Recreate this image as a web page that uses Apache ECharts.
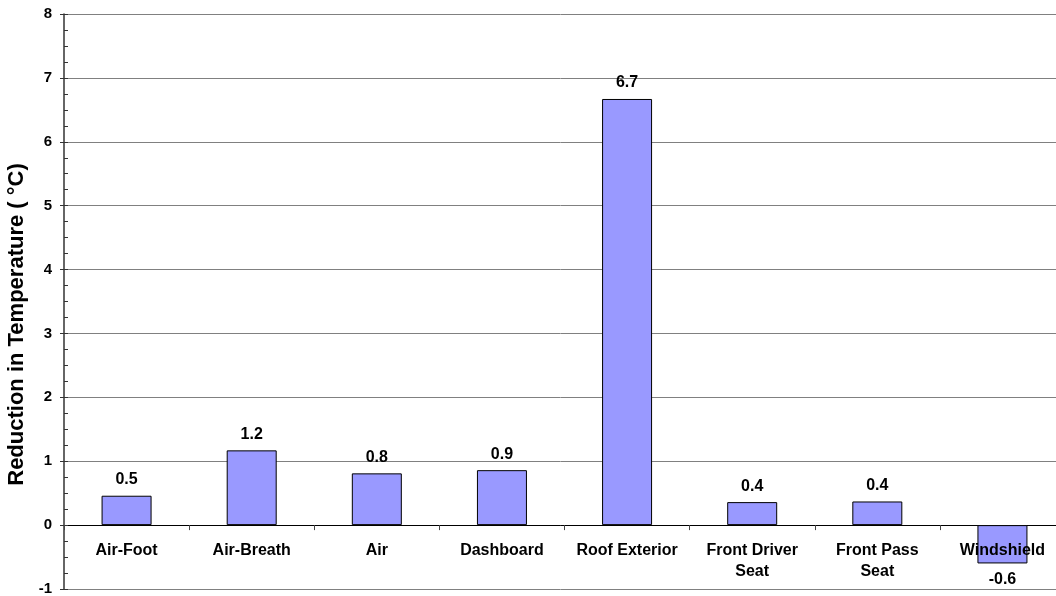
<!DOCTYPE html>
<html>
<head>
<meta charset="utf-8">
<script src="https://cdn.jsdelivr.net/npm/echarts@6/dist/echarts.min.js"></script>
<style>
	html, body { margin: 0; padding: 0; background: #fff; }
	#chart { width: 1056px; height: 596px; }
</style>
</head>
<body>
<div id="chart"></div>
<script>
// 数据
const categories = ["Air-Foot", "Air-Breath", "Air", "Dashboard", "Roof Exterior", "Front Driver\nSeat", "Front Pass\nSeat", "Windshield"];
const reduction = [0.46, 1.17, 0.81, 0.86, 6.67, 0.36, 0.37, -0.6];
const yTicks = [-1, 0, 1, 2, 3, 4, 5, 6, 7, 8];

const font = "'Liberation Sans', Arial, sans-serif";
const chart = echarts.init(document.getElementById("chart"));

// 负值的标签放到柱子下方
const barData = reduction.map((v) => ({
	value: v,
	label: { position: v < 0 ? "bottom" : "top" },
}));

const option = {
	animation: false,
	grid: {
		left: 64,
		right: -9,
		top: 14,
		bottom: 7,
		containLabel: false,
		outerBoundsMode: "none",
	},
	xAxis: [
		{
			// 只放文字，轴在底部，用负 margin 把文字挪到零线下方
			type: "category",
			data: categories,
			position: "bottom",
			z: 5,
			axisLine: { show: false, onZero: false },
			axisTick: { show: false },
			axisLabel: {
				show: true,
				margin: -49,
				color: "#000",
				fontFamily: font,
				fontWeight: "bold",
				fontSize: 16,
				lineHeight: 21,
				interval: 0,
			},
		},
		{
			// 零线 + 刻度
			type: "category",
			data: categories,
			position: "bottom",
			axisLine: { show: true, onZero: true, lineStyle: { color: "#000", width: 1 } },
			axisTick: { show: true, length: 5, lineStyle: { color: "#444" } },
			axisLabel: { show: false },
		},
	],
	yAxis: [
		{
			type: "value",
			min: yTicks[0],
			max: yTicks[yTicks.length - 1],
			interval: 1,
			name: "Reduction in Temperature ( °C)",
			nameLocation: "middle",
			nameRotate: 90,
			nameGap: 29,
			nameTextStyle: {
				color: "#000",
				fontFamily: font,
				fontWeight: "bold",
				fontSize: 22,
				padding: [0, 46, 0, 0],
			},
			axisLine: { show: true, onZero: false, lineStyle: { color: "#333", width: 1.5 } },
			axisTick: { show: true, length: 4, lineStyle: { color: "#333" } },
			axisLabel: {
				margin: 12,
				color: "#000",
				fontFamily: font,
				fontWeight: "bold",
				fontSize: 15,
			},
			splitLine: { show: true, lineStyle: { color: "#808080", width: 1 } },
		},
		{
			// 次刻度（朝内）
			type: "value",
			position: "left",
			min: yTicks[0],
			max: yTicks[yTicks.length - 1],
			interval: 0.25,
			axisLine: { show: false },
			axisTick: { show: true, inside: true, length: 4, lineStyle: { color: "#333" } },
			axisLabel: { show: false },
			splitLine: { show: false },
		},
	],
	series: [
		{
			type: "bar",
			data: barData,
			barWidth: 50,
			itemStyle: {
				color: "#9999FF",
				borderColor: "#000",
				borderWidth: 1,
			},
			label: {
				show: true,
				distance: 8,
				color: "#000",
				fontFamily: font,
				fontWeight: "bold",
				fontSize: 16,
				formatter: (p) => p.value.toFixed(1),
			},
		},
	],
};

chart.setOption(option);
</script>
</body>
</html>
